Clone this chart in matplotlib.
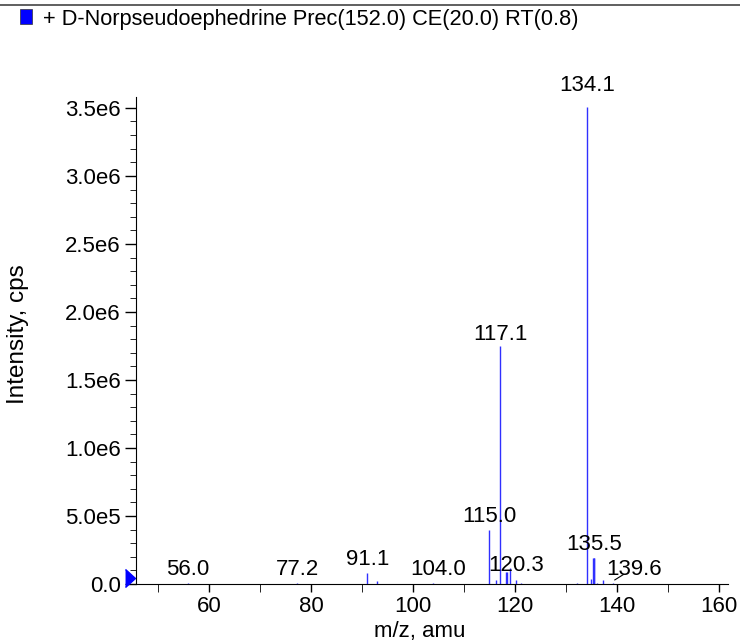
import matplotlib.pyplot as plt
import numpy as np
from matplotlib.ticker import MultipleLocator

plt.rcParams['font.family'] = ['Liberation Sans', 'DejaVu Sans']

# peaks (m/z, intensity)
mz = [55.9, 77.3, 91.1, 93.0, 104.0, 114.96, 116.3, 117.1, 118.3, 118.5, 119.0,
      120.3, 121.2, 132.2, 134.1, 134.9, 135.4, 135.5, 135.6, 136.1, 137.3, 139.3]
inten = [0.01e6, 0.005e6, 0.08e6, 0.02e6, 0.004e6, 0.40e6, 0.03e6, 1.75e6, 0.09e6, 0.09e6, 0.12e6,
         0.03e6, 0.01e6, 0.01e6, 3.51e6, 0.04e6, 0.19e6, 0.19e6, 0.19e6, 0.01e6, 0.03e6, 0.01e6]

# labelled peaks: text, label x, label bottom (intensity units)
lab_text = ["56.0", "77.2", "91.1", "104.0", "115.0", "117.1", "134.1", "135.5", "120.3", "139.6"]
lab_x = [55.9, 77.3, 91.1, 104.9, 115.0, 117.1, 134.1, 135.5, 120.3, 143.4]
lab_y = [0.03e6, 0.03e6, 0.1e6, 0.03e6, 0.42e6, 1.76e6, 3.59e6, 0.21e6, 0.06e6, 0.03e6]

yticks = [0, 5e5, 1e6, 1.5e6, 2e6, 2.5e6, 3e6, 3.5e6]
ytick_labels = ["0.0", "5.0e5", "1.0e6", "1.5e6", "2.0e6", "2.5e6", "3.0e6", "3.5e6"]

fs = 16

fig = plt.figure(figsize=(7.4, 6.42), dpi=100)
ax = fig.add_axes([136 / 740, 58 / 642, 592 / 740, 487 / 642])

ax.vlines(mz, 0, inten, colors='#3030ff', linewidth=1.0)

for t, x, y in zip(lab_text, lab_x, lab_y):
    ax.text(x, y, t, ha='center', va='bottom', fontsize=fs)
# leader line for 139.6
ax.plot([139.6, 141.3], [0.03e6, 0.07e6], color='black', linewidth=0.8)

ax.set_xlim(45.7, 161.8)
ax.set_ylim(0, 3.58e6)
ax.set_yticks(yticks)
ax.set_yticklabels(ytick_labels)
ax.yaxis.set_minor_locator(MultipleLocator(1e5))
ax.xaxis.set_major_locator(MultipleLocator(20))
ax.xaxis.set_minor_locator(MultipleLocator(10))
ax.tick_params(axis='both', which='major', labelsize=fs, width=1, pad=3)
ax.tick_params(axis='y', which='major', length=8)
ax.tick_params(axis='x', which='major', length=6)
ax.tick_params(axis='y', which='minor', length=4)
ax.tick_params(axis='x', which='minor', length=6)
ax.spines['top'].set_visible(False)
ax.spines['right'].set_visible(False)

fig.text(420 / 740, 1 - 632 / 642, "m/z, amu", fontsize=fs, ha='center', va='center')
fig.text(18 / 740, 1 - 334 / 642, "Intensity, cps", fontsize=17.5, ha='center', va='center', rotation=90)

# marker at y=0 on left axis
tri = [(-0.55, -1), (0.55, 0), (-0.55, 1)]
ax.plot([-0.01], [0.044e6], marker=tri, color='blue', markersize=13, clip_on=False,
        transform=ax.get_yaxis_transform())

# legend-like header
fig.add_artist(plt.Line2D([0, 1], [1 - 5 / 642, 1 - 5 / 642], color='#444444', linewidth=1.2))
fig.patches.append(plt.Rectangle((20 / 740, 1 - 24 / 642), 12 / 740, 15 / 642,
                                 transform=fig.transFigure, facecolor='blue', edgecolor='#333333', linewidth=0.5))
fig.text(43 / 740, 1 - 19 / 642, "+ D-Norpseudoephedrine Prec(152.0) CE(20.0) RT(0.8)",
         fontsize=15.7, va='center', ha='left')

fig.savefig("out.png", dpi=100)
